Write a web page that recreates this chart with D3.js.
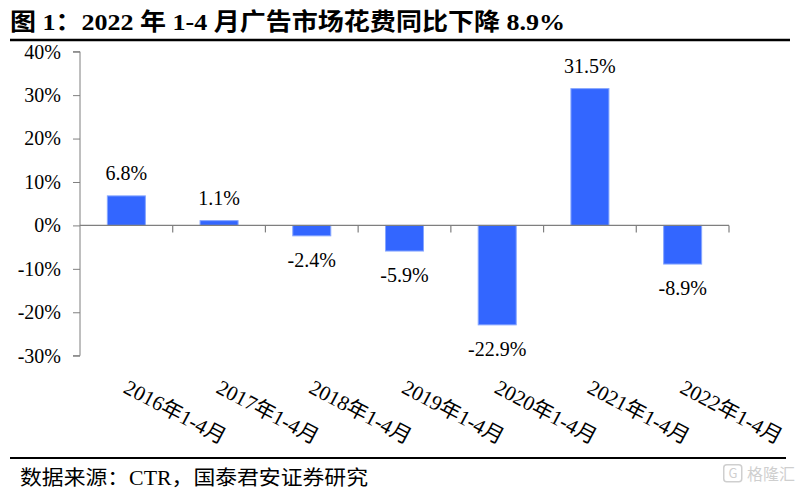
<!DOCTYPE html>
<html><head><meta charset="utf-8">
<script src="https://cdn.jsdelivr.net/npm/d3@7"></script>
<style>
body{margin:0;background:#fff;}
svg text{font-family:"Liberation Serif","Times New Roman","Noto Sans CJK SC",serif;}
</style></head>
<body><svg id="c" width="798" height="491"></svg>
<script>
const categories = ["2016年1-4月","2017年1-4月","2018年1-4月","2019年1-4月","2020年1-4月","2021年1-4月","2022年1-4月"];
const values = [6.8, 1.1, -2.4, -5.9, -22.9, 31.5, -8.9];
const yTicks = [40, 30, 20, 10, 0, -10, -20, -30];
const titleText = "图 1：2022 年 1-4 月广告市场花费同比下降 8.9%";
const sourceText = "数据来源：CTR，国泰君安证券研究";

const svg = d3.select("#c");
const x = d3.scaleBand().domain(categories).range([80, 729]).paddingInner(0.59).paddingOuter(0.295);
const xb = d3.scaleBand().domain(categories).range([80, 729]);
const y = d3.scaleLinear().domain([-30, 40]).range([355.7, 51.7]);

// title
svg.append("text").attr("x", 10).attr("y", 30).attr("font-size", 24).attr("font-weight", "bold")
  .attr("fill", "#000").attr("textLength", 555).attr("lengthAdjust", "spacingAndGlyphs").text(titleText);
svg.append("line").attr("x1", 10).attr("x2", 790).attr("y1", 40).attr("y2", 40)
  .attr("stroke", "#000").attr("stroke-width", 2.5);

// y axis
const yAxis = d3.axisLeft(y).tickValues(yTicks).tickSize(7).tickFormat(d => d + "%");
const gy = svg.append("g").attr("transform", "translate(80,0)").call(yAxis);
gy.select(".domain").attr("stroke", "#7f7f7f").attr("d", `M-7,${y(40)}H0V${y(-30)}H-7`);
gy.selectAll(".tick line").attr("stroke", "#7f7f7f");
gy.selectAll(".tick text").attr("font-size", 20).attr("fill", "#000").attr("x", -19)
  .style("font-family", '"Liberation Serif",serif');

// bars
svg.selectAll("rect.bar").data(values).join("rect").attr("class", "bar")
  .attr("x", (d, i) => x(categories[i]))
  .attr("width", x.bandwidth())
  .attr("y", d => y(Math.max(0, d)))
  .attr("height", d => Math.abs(y(d) - y(0)))
  .attr("fill", "#3366ff").attr("stroke", "#86a6ff").attr("stroke-width", 1);

// x axis line at zero
svg.append("line").attr("x1", 80).attr("x2", 729).attr("y1", y(0)).attr("y2", y(0))
  .attr("stroke", "#7f7f7f").attr("stroke-width", 1.2);
const bounds = categories.map(c => xb(c)).concat([729]);
svg.selectAll("line.xt").data(bounds.slice(1)).join("line").attr("class", "xt")
  .attr("x1", d => d).attr("x2", d => d).attr("y1", y(0)).attr("y2", y(0) + 7)
  .attr("stroke", "#7f7f7f").attr("stroke-width", 1.2);

// value labels
svg.selectAll("text.val").data(values).join("text").attr("class", "val")
  .attr("x", (d, i) => xb(categories[i]) + xb.bandwidth() / 2)
  .attr("y", d => d >= 0 ? y(d) - 16 : y(d) + 31)
  .attr("text-anchor", "middle").attr("font-size", 20).attr("fill", "#000")
  .text(d => d.toFixed(1) + "%");

// x labels
svg.selectAll("text.xl").data(categories).join("text").attr("class", "xl")
  .attr("transform", d => `translate(${xb(d) + xb.bandwidth() / 2 - 4},392) rotate(28)`)
  .attr("font-size", 21).attr("fill", "#000").text(d => d);

// footer
svg.append("line").attr("x1", 10).attr("x2", 786).attr("y1", 458).attr("y2", 458)
  .attr("stroke", "#000").attr("stroke-width", 2);
svg.append("text").attr("x", 20).attr("y", 485).attr("font-size", 20).attr("fill", "#000")
  .attr("textLength", 348).attr("lengthAdjust", "spacingAndGlyphs").text(sourceText);

// watermark
const wm = svg.append("g").attr("transform", "translate(723,464)");
wm.append("rect").attr("x", 0.75).attr("y", 0.75).attr("width", 18).attr("height", 17).attr("rx", 3)
  .attr("fill", "none").attr("stroke", "#cfcfcf").attr("stroke-width", 1.5);
wm.append("text").attr("x", 10).attr("y", 14).attr("text-anchor", "middle").attr("font-size", 13)
  .attr("fill", "#cfcfcf").style("font-family", '"Noto Sans CJK SC",sans-serif').text("G");
wm.append("text").attr("x", 24).attr("y", 16).attr("font-size", 16).attr("fill", "#cfcfcf")
  .style("font-family", '"Noto Sans CJK SC",sans-serif').text("格隆汇");
</script></body></html>
